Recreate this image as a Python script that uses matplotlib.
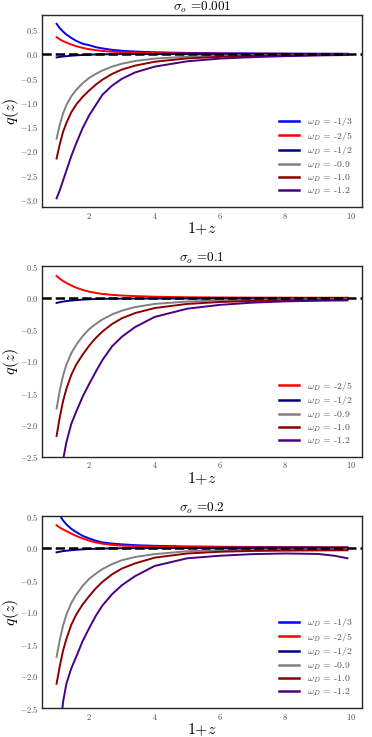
import matplotlib
matplotlib.use("Agg")
import matplotlib.pyplot as plt

plt.rcParams['font.family'] = ['cmr10', 'DejaVu Serif']
plt.rcParams['mathtext.fontset'] = 'cm'
plt.rcParams['axes.formatter.use_mathtext'] = True
plt.rcParams['axes.unicode_minus'] = True

# ---------------- data ----------------
x = [1.0, 1.1, 1.2, 1.3, 1.45, 1.6, 1.8, 2.0, 2.2, 2.4, 2.7, 3.0, 3.4, 4.0, 5.0, 6.0, 7.0, 8.0, 9.0, 9.5, 9.9]

titles = ["0.001", "0.1", "0.2"]
labels = ["-1/3", "-2/5", "-1/2", "-0.9", "-1.0", "-1.2"]
colors = ["blue", "red", "navy", "gray", "darkred", "indigo"]

# panel 1 (sigma_o = 0.001)
p1_m13 = [0.62, 0.53, 0.46, 0.40, 0.33, 0.27, 0.21, 0.18, 0.14, 0.115, 0.085, 0.065, 0.05, 0.035, 0.022, 0.015, 0.011, 0.008, 0.006, 0.005, 0.005]
p1_m25 = [0.345, 0.30, 0.265, 0.235, 0.195, 0.16, 0.125, 0.097, 0.078, 0.062, 0.047, 0.037, 0.028, 0.018, 0.010, 0.006, 0.004, 0.003, 0.002, 0.002, 0.002]
p1_m12 = [-0.07, -0.06, -0.05, -0.045, -0.035, -0.028, -0.02, -0.015, -0.01, -0.007, -0.004, -0.002, -0.001, -0.001, -0.001, -0.001, -0.001, -0.001, -0.001, -0.001, -0.001]
p1_m09 = [-1.74, -1.45, -1.22, -1.05, -0.87, -0.74, -0.60, -0.49, -0.41, -0.34, -0.26, -0.20, -0.145, -0.095, -0.055, -0.035, -0.025, -0.018, -0.014, -0.013, -0.012]
p1_m10 = [-2.15, -1.85, -1.60, -1.42, -1.20, -1.04, -0.88, -0.75, -0.63, -0.53, -0.41, -0.32, -0.24, -0.16, -0.09, -0.06, -0.04, -0.03, -0.022, -0.02, -0.018]
p1_m12b = [-2.97, -2.80, -2.60, -2.40, -2.10, -1.84, -1.52, -1.26, -1.05, -0.84, -0.65, -0.51, -0.38, -0.26, -0.15, -0.095, -0.065, -0.045, -0.03, -0.025, -0.022]

# panel 2 (sigma_o = 0.1)
p2_m25 = [0.345, 0.30, 0.265, 0.235, 0.195, 0.16, 0.125, 0.097, 0.078, 0.062, 0.047, 0.037, 0.028, 0.018, 0.010, 0.006, 0.004, 0.003, 0.002, 0.002, 0.002]
p2_m12 = [-0.079, -0.068, -0.058, -0.05, -0.042, -0.036, -0.028, -0.022, -0.018, -0.015, -0.013, -0.012, -0.011, -0.01, -0.01, -0.01, -0.01, -0.01, -0.01, -0.01, -0.01]
p2_m09 = [-1.74, -1.45, -1.22, -1.05, -0.87, -0.74, -0.60, -0.49, -0.41, -0.34, -0.26, -0.20, -0.145, -0.095, -0.058, -0.04, -0.03, -0.025, -0.022, -0.021, -0.02]
p2_m10 = [-2.17, -1.87, -1.62, -1.43, -1.21, -1.05, -0.89, -0.75, -0.63, -0.53, -0.41, -0.32, -0.24, -0.16, -0.095, -0.065, -0.048, -0.04, -0.035, -0.033, -0.03]
p2_m12b = [-3.30, -2.88, -2.54, -2.27, -1.98, -1.79, -1.55, -1.35, -1.16, -0.98, -0.76, -0.61, -0.46, -0.30, -0.17, -0.11, -0.075, -0.055, -0.045, -0.042, -0.04]

# panel 3 (sigma_o = 0.2)
p3_m13 = [0.62, 0.51, 0.43, 0.37, 0.30, 0.25, 0.19, 0.15, 0.115, 0.088, 0.07, 0.058, 0.045, 0.035, 0.025, 0.02, 0.017, 0.015, 0.013, 0.012, 0.012]
p3_m25 = [0.355, 0.32, 0.29, 0.265, 0.225, 0.19, 0.15, 0.115, 0.088, 0.068, 0.05, 0.038, 0.03, 0.022, 0.016, 0.013, 0.011, 0.010, 0.010, 0.010, 0.010]
p3_m12 = [-0.067, -0.057, -0.048, -0.042, -0.034, -0.027, -0.02, -0.015, -0.011, -0.008, -0.005, -0.003, -0.002, -0.001, -0.001, -0.001, -0.001, -0.001, -0.001, -0.001, -0.001]
p3_m09 = [-1.70, -1.43, -1.21, -1.04, -0.86, -0.73, -0.59, -0.48, -0.40, -0.33, -0.25, -0.19, -0.14, -0.095, -0.05, -0.035, -0.028, -0.024, -0.022, -0.021, -0.02]
p3_m10 = [-2.12, -1.84, -1.60, -1.42, -1.20, -1.04, -0.88, -0.75, -0.63, -0.53, -0.41, -0.32, -0.24, -0.15, -0.085, -0.058, -0.045, -0.04, -0.037, -0.036, -0.035]
p3_m12b = [-3.40, -2.85, -2.40, -2.12, -1.88, -1.70, -1.45, -1.25, -1.06, -0.90, -0.72, -0.58, -0.44, -0.28, -0.16, -0.12, -0.095, -0.085, -0.092, -0.12, -0.16]

panels = [
    [p1_m13, p1_m25, p1_m12, p1_m09, p1_m10, p1_m12b],
    [None, p2_m25, p2_m12, p2_m09, p2_m10, p2_m12b],
    [p3_m13, p3_m25, p3_m12, p3_m09, p3_m10, p3_m12b],
]
ylims = [None, (-2.5, 0.5), (-2.5, 0.5)]

# ---------------- figure ----------------
fig = plt.figure(figsize=(3.72, 7.37), dpi=100)
rects = [
    (0.113, 0.719, 0.860, 0.2605),
    (0.113, 0.380, 0.860, 0.259),
    (0.113, 0.0393, 0.860, 0.2605),
]

for i, rect in enumerate(rects):
    ax = fig.add_axes(rect)
    for ser, lab, col in zip(panels[i], labels, colors):
        if ser is None:
            continue
        ax.plot(x, ser, color=col, lw=1.4, label=r"$\omega_D$ = " + lab)
    ax.axhline(0, color="black", ls="--", lw=1.8, zorder=5)
    if ylims[i] is not None:
        ax.set_ylim(*ylims[i])
    ax.set_xticks([2, 4, 6, 8, 10])
    ax.tick_params(length=0, labelsize=6, labelcolor="0.3", pad=2.5)
    for s in ax.spines.values():
        s.set_color("0.15")
        s.set_linewidth(1.0)
    ax.set_title(r"$\sigma_o$ =" + titles[i], fontsize=9.5, pad=1)
    ax.set_xlabel(r"$1{+}z$", fontsize=11.5)
    ax.xaxis.set_label_coords(0.5, -0.068)
    ax.set_ylabel(r"$q(z)$", fontsize=11.5)
    ax.yaxis.set_label_coords(-0.066, 0.5)
    leg = ax.legend(loc="lower right", frameon=False, fontsize=7,
                    handlelength=2.0, labelspacing=0.17, borderaxespad=0.6,
                    handletextpad=0.8)
    for t in leg.get_texts():
        t.set_color("0.3")
    for h in leg.get_lines():
        h.set_linewidth(1.8)

fig.savefig("out.png", dpi=100)
